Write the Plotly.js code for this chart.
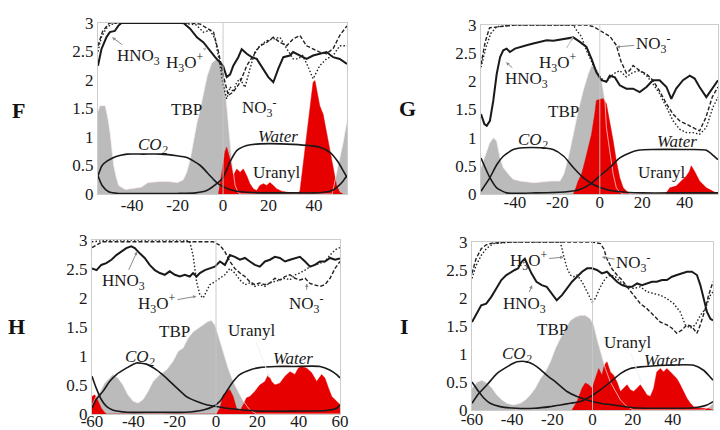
<!DOCTYPE html>
<html><head><meta charset="utf-8">
<script src="https://cdn.plot.ly/plotly-3.0.1.min.js"></script>
<style>html,body{margin:0;padding:0;background:#fff}#chart{width:720px;height:430px}</style>
</head><body><div id="chart"></div>
<script>
// ---------------- Panel F ----------------
const F_tbp_x = [-55,-54.2,-51.8,-50.5,-49.6,-48.1,-47,-45.9,-43,-40,-36,-33,-28,-24,-20,-17.5,-16,-14.5,-13,-11.5,-10,-8.5,-7,-5,-2.8,0,1,2.3,3.8,5.3,6.7,8,48,50.6,52.8,55];
const F_tbp_y = [1.45,1.55,1.55,1.3,1.05,0.5,0.3,0.15,0.08,0.1,0.12,0.2,0.22,0.22,0.2,0.25,0.38,0.6,0.96,1.25,1.5,1.8,2.07,2.3,2.37,2.25,1.8,1.2,0.6,0.15,0.02,0,0,0.5,0.9,1.4];
const F_ur_x = [-2,-1.3,-0.3,0.9,1.6,2.3,3.1,4.5,6,7.5,8.9,10.4,11.8,13.3,14.8,16.2,17.7,19.2,20.6,22.1,23.5,25.7,29.4,32.3,33.8,35.2,36.7,38.2,39.6,40.4,41.1,42.5,44,45.5,46.9,48.4,49.9,51.3,52.8];
const F_ur_y = [0,0.2,0.5,0.75,0.82,0.72,0.6,0.32,0.44,0.38,0.44,0.32,0.18,0.09,0.06,0.15,0.18,0.15,0.2,0.15,0.09,0.05,0.02,0,0.05,0.5,0.96,1.49,1.96,1.99,1.84,1.55,1.4,1.08,0.85,0.5,0.15,0.03,0];
const F_co2_x = [-55,-53.2,-50.9,-48.1,-45,-42.3,-35,-27.6,-20.3,-15.9,-10,-5.7,-2.8,0,4.5,10,20,30,40,46,48.4,51,52.8,54.5];
const F_co2_y = [0.32,0.5,0.58,0.64,0.68,0.7,0.7,0.7,0.67,0.64,0.5,0.32,0.2,0.13,0.06,0.03,0.02,0.02,0.02,0.04,0.07,0.15,0.23,0.32];
const F_wat_x = [-55,-53.2,-50.3,-45.9,-40,-30,-20,-12,-7.2,-2.8,0,3,6,10.4,16.2,30.8,42.5,47,50.6,52.8,54.5];
const F_wat_y = [0.32,0.15,0.04,0.01,0.01,0.01,0.01,0.02,0.06,0.18,0.29,0.56,0.76,0.85,0.88,0.87,0.82,0.73,0.56,0.41,0.29];
const F_hno3_x = [-55,-53.5,-51.3,-49.8,-47.6,-46.1,-44.7,-40,-30,-20,-17.4,-14.5,-11.5,-8.6,-6.4,-3.5,0,1.6,3.1,4.5,6.7,8.2,10.4,12.6,14.8,17.7,19.9,22.1,24.3,26.5,29.4,30.8,33.8,36.7,39.6,42.5,45.5,48.4,51.3,54.5];
const F_hno3_y = [2.25,2.54,2.75,2.84,2.86,2.95,3,3,3,3,3,2.9,2.75,2.66,2.54,2.4,2.25,2.05,2.1,2.25,2.4,2.54,2.46,2.4,2.37,2.19,2.05,1.96,2.2,2.4,2.43,2.49,2.43,2.37,2.43,2.46,2.49,2.4,2.37,2.28];
const F_h3o_x = [-55,-53.5,-51.5,-49.5,-47,-40,-20,-12,-8.6,-5.7,-3.5,-1.3,0.1,1.6,3.1,4.5,6,7.5,9.6,11.8,14,16.2,19.2,22.1,25,28,30.8,32.9,35,37.2,39.6,42.5,45.5,48.4,51.3,54.5];
const F_h3o_y = [2.5,2.75,2.9,2.97,3,3,3,2.97,2.84,2.87,2.72,2.25,1.9,1.67,1.88,1.79,1.96,2.02,1.87,2.19,2.49,2.6,2.69,2.72,2.75,2.55,2.37,2.37,2.43,2.25,2.02,2.25,2.37,2.43,2.6,2.6];
const F_no3_x = [-55,-53,-50,-40,-20,-14.5,-10,-4.2,-2,0.1,2.3,4.5,7.5,10.4,13.3,16.2,19.2,22.1,25,28,30.8,33.8,36.7,39.6,42.5,45.5,48.4,51.3,54.5];
const F_no3_y = [2.6,2.85,3,3,3,3,2.98,2.84,2.49,2.08,1.73,1.79,1.96,2.25,2.43,2.6,2.66,2.75,2.66,2.6,2.72,2.78,2.6,2.55,2.49,2.46,2.55,2.78,2.95];

// ---------------- Panel G ----------------
const G_tbp_x = [-56,-54,-52,-50.2,-48.6,-47,-45.5,-43,-40.8,-37.6,-31,-23.5,-18.8,-17,-14.9,-12.5,-10.2,-7.8,-5.5,-3.9,-2.4,-0.8,0.8,2.4,3.1,4.7,6.3,7.8,9.4,11,55.7];
const G_tbp_y = [0.47,0.7,0.9,1.0,0.94,0.64,0.47,0.35,0.26,0.23,0.2,0.23,0.23,0.35,0.64,1.06,1.48,1.84,2.13,2.28,2.25,2.19,2.02,1.66,1.18,0.76,0.35,0.11,0.03,0,0];
const G_ur_x = [-12.5,-11.8,-10.2,-8.6,-7,-5.5,-3.9,-2.4,-1.6,0,1.6,3.1,4.7,6.3,7.8,9.4,11,12.5,14,31,33,36,38.4,40.8,42.2,43.1,44.7,47,50.2,53.3,55.7];
const G_ur_y = [0,0.05,0.23,0.35,0.58,0.82,1.06,1.42,1.66,1.68,1.69,1.6,1.3,0.94,0.58,0.29,0.11,0.05,0,0,0.11,0.14,0.23,0.32,0.4,0.5,0.4,0.23,0.11,0.04,0];
const G_co2_x = [-56,-51.8,-48.6,-45.5,-40.8,-36,-28,-22,-17,-12.5,-7.8,-3.1,3.1,9.4,20,40,55.7];
const G_co2_y = [0.05,0.29,0.52,0.67,0.79,0.82,0.82,0.79,0.67,0.47,0.29,0.17,0.08,0.04,0.02,0.02,0.02];
const G_wat_x = [-56,-51.8,-48.6,-43.9,-30,-15.7,-9.4,-4.7,0,4.7,9.4,14,18.8,25,39,50,53,55.7];
const G_wat_y = [0.64,0.29,0.11,0.02,0.02,0.04,0.08,0.17,0.32,0.47,0.64,0.73,0.78,0.79,0.79,0.78,0.7,0.61];
const G_hno3_x = [-56,-54.4,-53.3,-51.8,-50.2,-48.6,-47,-45.5,-43.9,-42.4,-40,-37.6,-34.5,-31.4,-28.2,-25,-21.9,-18.8,-15.7,-12.5,-9.4,-6.3,-3.9,-1.6,0.8,3.1,4.7,7.1,9.4,12.5,15.7,18.8,22,25,28.2,31.4,33.7,36,39.2,42.4,44.7,47,50.2,52.5,55.7];
const G_hno3_y = [1.42,1.24,1.21,1.3,1.66,2.13,2.43,2.55,2.58,2.52,2.58,2.61,2.64,2.67,2.7,2.73,2.72,2.74,2.76,2.78,2.7,2.61,2.4,2.16,2.02,1.99,2.1,2.07,1.93,1.87,1.87,1.81,1.9,2.02,2.02,1.9,1.69,1.87,2.02,2.1,2.05,1.9,1.72,1.84,2.02];
const G_h3o_x = [-56,-53.6,-51.4,-48.6,-40,-20,-12.5,-11,-8.6,-6.3,-3.9,-1.6,0.8,3.1,6.3,9.4,12.5,15.7,18.8,22,25,28.2,31.4,34.5,37.6,40.8,44,47,50.2,53.3,55.7];
const G_h3o_y = [2.25,2.61,2.85,2.97,3,3,3,2.91,2.79,2.55,2.34,2.16,2.05,1.99,2.13,2.19,2.08,2.16,2.19,2.1,1.96,1.78,1.54,1.3,1.15,1.09,1.09,1.06,1.18,1.54,1.72];
const G_no3_x = [-56,-54,-52,-40,-20,-6.3,-3,0,4.7,7.8,10,12.5,14,15.7,18.8,22,25,28,31.4,34.5,37.6,40.8,44,47,50,53,55.7];
const G_no3_y = [2.3,2.7,2.95,3,3,3,2.97,2.9,2.8,2.64,2.35,2.15,2.19,2.28,2.19,2.13,2.02,1.84,1.6,1.42,1.3,1.24,1.18,1.12,1.36,1.72,1.9];

// ---------------- Panel H ----------------
const H_tbp_x = [-60,-58,-56,-54,-51.5,-50,-47.4,-45,-42.6,-40,-37.7,-35.3,-32.9,-30.5,-27.2,-24,-20.8,-18.3,-15.9,-13.5,-11,-8.6,-6.2,-3.8,-2.2,-0.6,1,3.5,5.9,8.3,10.7,13.2,16.4,19.6,60];
const H_tbp_y = [0.15,0.3,0.39,0.53,0.62,0.68,0.62,0.5,0.33,0.22,0.19,0.25,0.39,0.56,0.68,0.76,0.91,1.08,1.14,1.31,1.42,1.48,1.54,1.6,1.61,1.54,1.37,1.08,0.79,0.56,0.39,0.22,0.07,0,0];
const H_ur_x = [-60,-58.7,-57,-55.5,-54,-53,0.2,1.9,3.5,5.1,6.7,8.3,9.9,11.5,13.2,14.8,16.4,18.8,21.2,23.7,25.3,26.9,28.5,30.9,33.4,35.8,38.2,39.8,41.4,43.9,46.3,48.7,51.1,52.7,54.4,56,58.4,60];
const H_ur_y = [0.3,0.33,0.22,0.1,0.03,0,0,0.1,0.33,0.39,0.42,0.3,0.1,0.05,0.16,0.28,0.3,0.39,0.5,0.56,0.68,0.56,0.5,0.53,0.65,0.73,0.68,0.79,0.82,0.79,0.71,0.56,0.68,0.62,0.45,0.3,0.22,0.16];
const H_co2_x = [-60,-58,-54.7,-51.5,-48.2,-43.4,-38.5,-33.7,-28.8,-24,-19,-14.3,-9.5,-4.6,0,5.1,13,21,37,53,58.4,60];
const H_co2_y = [0.1,0.25,0.39,0.56,0.68,0.79,0.88,0.86,0.76,0.62,0.45,0.3,0.22,0.16,0.13,0.1,0.07,0.05,0.05,0.06,0.1,0.16];
const H_wat_x = [-60,-58,-55.5,-53,-50,-43,-30,-15,-6.2,-1.4,1.9,5.1,8.3,11.5,16.4,21,29,37.4,50.3,55,58.4,60];
const H_wat_y = [0.65,0.45,0.25,0.13,0.07,0.03,0.03,0.03,0.07,0.13,0.22,0.39,0.56,0.68,0.76,0.8,0.82,0.82,0.82,0.76,0.68,0.62];
const H_hno3_x = [-60,-57.8,-55.5,-53.1,-50.6,-48.2,-45.8,-43.4,-41,-39.3,-36.9,-34.5,-32.1,-29.6,-27.2,-24.8,-22.4,-19.9,-17.5,-15.1,-12.7,-11.1,-9.4,-7.8,-5.4,-3,-0.6,1.9,4.3,6.7,9.1,11.6,14,16.4,18.8,21.2,23.7,26.1,28.5,30.9,33.4,35.8,38.2,40.6,43.1,45.5,47.9,50.3,52.7,55.2,57.6,60];
const H_hno3_y = [2.51,2.48,2.57,2.6,2.66,2.74,2.8,2.86,2.89,2.86,2.77,2.69,2.57,2.48,2.43,2.4,2.46,2.4,2.37,2.4,2.37,2.43,2.37,2.43,2.48,2.51,2.54,2.63,2.57,2.74,2.71,2.66,2.69,2.63,2.57,2.54,2.63,2.66,2.71,2.69,2.63,2.66,2.69,2.71,2.63,2.54,2.57,2.63,2.63,2.69,2.66,2.68];
const H_h3o_x = [-60,-50,-30,-15,-12.7,-11.1,-9.4,-7.8,-6.2,-4.6,-3,-0.6,1.9,4.3,6.7,9.1,11.6,14,16.4,18.8,21.2,23.7,26.1,28.5,30.9,33.4,35.8,38.2,40.6,43.1,45.5,47.9,50.3,52.7,55.2,57.6,60];
const H_h3o_y = [2.97,3,3,3,2.97,2.74,2.28,2.05,2,2.11,2.23,2.28,2.34,2.4,2.51,2.43,2.31,2.23,2.26,2.2,2.23,2.2,2.26,2.28,2.31,2.34,2.31,2.4,2.43,2.48,2.54,2.57,2.6,2.63,2.74,2.83,2.87];
const H_no3_x = [-60,-57.8,-55,-40,-20,-1.4,1.9,4.3,6.7,9.1,11.6,14,16.4,18.8,21.2,23.7,26.1,28.5,30.9,33.4,35.8,38.2,40.6,43.1,45.5,47.9,50.3,52.7,55.2,57.6,60];
const H_no3_y = [2.87,2.92,2.97,2.97,2.97,2.97,2.91,2.8,2.63,2.51,2.43,2.37,2.28,2.23,2.26,2.23,2.26,2.34,2.31,2.37,2.4,2.34,2.31,2.34,2.25,2.23,2.2,2.23,2.34,2.51,2.63];

// ---------------- Panel I ----------------
const I_tbp_x = [-60,-57.5,-55,-52.5,-50,-47.6,-45,-42.6,-39.3,-36,-33.4,-31,-28.5,-26,-23.5,-21,-18.5,-16,-13.5,-11,-8.5,-6,-3.6,-1.1,0.6,2.2,3.9,6.4,8.9,11.4,13.9,17.2,20.5,55,58,60];
const I_tbp_y = [0.39,0.5,0.53,0.48,0.39,0.27,0.18,0.12,0.09,0.12,0.18,0.27,0.39,0.56,0.68,0.86,1.1,1.28,1.46,1.6,1.66,1.69,1.69,1.63,1.52,1.28,1.04,0.74,0.5,0.33,0.18,0.06,0,0,0.05,0.12];
const I_ur_x = [-10.2,-7.7,-5.2,-3.6,-1.9,-0.2,1.4,3.1,4.7,5.9,7.2,8.9,10.5,12.2,13.9,15.5,17.2,18.8,20.5,22.2,23.8,25.5,27.1,28.8,30.5,32,33.8,35.4,37,38.8,40.4,42,43.7,45.4,47,48.7,50.4,53.7,57,60];
const I_ur_y = [0,0.15,0.39,0.48,0.45,0.39,0.56,0.74,0.62,0.8,0.86,0.68,0.62,0.5,0.33,0.39,0.45,0.36,0.33,0.39,0.45,0.36,0.27,0.24,0.39,0.68,0.74,0.68,0.74,0.68,0.62,0.56,0.45,0.33,0.21,0.12,0.06,0.03,0.03,0];
const I_co2_x = [-60,-57.2,-52.5,-47.6,-42.6,-37.6,-32.6,-27.6,-22.7,-17.7,-12.7,-7.7,-2.7,3.9,12.2,20.5,37,50.4,57,60];
const I_co2_y = [0.12,0.27,0.45,0.65,0.77,0.86,0.86,0.77,0.62,0.48,0.33,0.24,0.18,0.12,0.08,0.04,0.03,0.04,0.09,0.15];
const I_wat_x = [-60,-56.7,-54,-51,-46,-38,-29,-21,-16,-11,-6,-1,3.9,8.9,13.9,18.8,23.8,37,50.4,55.3,57.8,60];
const I_wat_y = [0.5,0.33,0.21,0.12,0.06,0.03,0.03,0.06,0.09,0.12,0.15,0.24,0.36,0.5,0.65,0.74,0.77,0.8,0.8,0.71,0.62,0.53];
const I_hno3_x = [-60,-58,-55.4,-52.9,-50.4,-47.9,-45.4,-42.9,-40.4,-38.7,-37,-35.4,-33.7,-32.1,-30.4,-27.9,-25.3,-22.8,-20.3,-17.8,-15.2,-12.7,-10.2,-7.7,-5.2,-2.7,-0.2,2.2,4.7,7.2,9.7,12.2,14.7,17.2,19.7,22.2,24.6,27.1,29.6,32,34.6,37,39.6,42,44.6,47,49.5,52,53.7,55.3,57,58.7,60];
const I_hno3_y = [1.57,1.69,1.87,1.9,2.02,2.17,2.32,2.41,2.47,2.5,2.53,2.64,2.7,2.58,2.44,2.29,2.23,2.2,2.08,1.96,2.05,2.17,2.29,2.38,2.47,2.53,2.53,2.5,2.44,2.47,2.38,2.29,2.23,2.2,2.2,2.26,2.23,2.26,2.29,2.29,2.32,2.32,2.38,2.41,2.44,2.47,2.47,2.41,2.23,1.99,1.75,1.63,1.6];
const I_h3o_x = [-60,-58,-55.4,-52.9,-49.5,-40,-20,-16,-14.4,-12.7,-11,-9.4,-7.7,-5.2,-2.7,-0.2,1.4,3.9,6.4,8.9,11.4,13.9,17.2,20.5,23.8,27.1,30.5,33.8,37,40.4,43.7,46.2,48.7,51.2,53.7,56.2,58.7,60];
const I_h3o_y = [2.35,2.58,2.76,2.88,2.97,3,3,3,2.76,2.53,2.41,2.38,2.41,2.29,2.11,1.93,1.99,2.2,2.35,2.41,2.38,2.29,2.2,2.17,2.2,2.11,2.08,2.05,1.99,1.9,1.75,1.52,1.46,1.52,1.69,1.81,2.05,2.11];
const I_no3_x = [-60,-58,-55.4,-52.9,-50,-40,-20,0,3.9,5.6,7.2,9.7,12.2,14.7,17.2,20.5,23.8,27.1,30.5,33.8,37,39.6,42,44.6,47,49.5,52,53.7,56.2,57.8,60];
const I_no3_y = [2.44,2.7,2.88,2.95,2.98,3,3,3,2.97,2.88,2.7,2.52,2.41,2.32,2.2,2.05,1.9,1.81,1.69,1.57,1.52,1.46,1.37,1.43,1.52,1.49,1.37,1.52,1.81,2.05,2.29];

// ---------------- Ticks / labels ----------------
const yTickVals = [0,0.5,1,1.5,2,2.5,3];
const yTickText = ['0','0.5','1','1.5','2','2.5','3'];
const xTickValsFG = [-40,-20,0,20,40];
const xTickTextFG = ['-40','-20','0','20','40'];
const xTickValsHI = [-60,-40,-20,0,20,40,60];
const xTickTextHI = ['-60','-40','-20','0','20','40','60'];
const panelLetters = ['F','G','H','I'];

const GRAY = '#bbbbbb', RED = '#e60000', INK = '#1a1a1a';
const SERIF = 'Liberation Serif, Times New Roman, serif';

const panels = [
  {xa:'x',  ya:'y',  tbp:[F_tbp_x,F_tbp_y], ur:[F_ur_x,F_ur_y], co2:[F_co2_x,F_co2_y], wat:[F_wat_x,F_wat_y], hno3:[F_hno3_x,F_hno3_y], h3o:[F_h3o_x,F_h3o_y], no3:[F_no3_x,F_no3_y]},
  {xa:'x2', ya:'y2', tbp:[G_tbp_x,G_tbp_y], ur:[G_ur_x,G_ur_y], co2:[G_co2_x,G_co2_y], wat:[G_wat_x,G_wat_y], hno3:[G_hno3_x,G_hno3_y], h3o:[G_h3o_x,G_h3o_y], no3:[G_no3_x,G_no3_y]},
  {xa:'x3', ya:'y3', tbp:[H_tbp_x,H_tbp_y], ur:[H_ur_x,H_ur_y], co2:[H_co2_x,H_co2_y], wat:[H_wat_x,H_wat_y], hno3:[H_hno3_x,H_hno3_y], h3o:[H_h3o_x,H_h3o_y], no3:[H_no3_x,H_no3_y]},
  {xa:'x4', ya:'y4', tbp:[I_tbp_x,I_tbp_y], ur:[I_ur_x,I_ur_y], co2:[I_co2_x,I_co2_y], wat:[I_wat_x,I_wat_y], hno3:[I_hno3_x,I_hno3_y], h3o:[I_h3o_x,I_h3o_y], no3:[I_no3_x,I_no3_y]}
];

const traces = [];
panels.forEach(p => {
  const base = {type:'scatter', mode:'lines', xaxis:p.xa, yaxis:p.ya, hoverinfo:'skip', showlegend:false};
  traces.push(Object.assign({}, base, {x:p.tbp[0], y:p.tbp[1], fill:'tozeroy', fillcolor:GRAY, line:{width:0, color:GRAY}}));
  traces.push(Object.assign({}, base, {x:p.ur[0], y:p.ur[1], fill:'tozeroy', fillcolor:RED, line:{width:0.5, color:RED}}));
  traces.push(Object.assign({}, base, {x:p.tbp[0], y:p.tbp[1], line:{width:1, color:'rgba(255,235,235,0.7)'}}));
  traces.push(Object.assign({}, base, {x:p.co2[0], y:p.co2[1], line:{width:1.6, color:INK, shape:'spline', smoothing:0.6}}));
  traces.push(Object.assign({}, base, {x:p.wat[0], y:p.wat[1], line:{width:1.6, color:INK, shape:'spline', smoothing:0.6}}));
  traces.push(Object.assign({}, base, {x:p.no3[0], y:p.no3[1], line:{width:1.4, color:'#222', dash:'4px,2px'}}));
  traces.push(Object.assign({}, base, {x:p.h3o[0], y:p.h3o[1], line:{width:1.4, color:'#222', dash:'1.5px,2px'}}));
  traces.push(Object.assign({}, base, {x:p.hno3[0], y:p.hno3[1], line:{width:2, color:INK}}));
});

function xAxis(domain, range, tv, tt, anchor, standoff){
  return {domain, range, anchor, tickvals:tv, ticktext:tt, ticks:'', showgrid:false,
    showline:true, mirror:true, linecolor:'#cccccc', linewidth:1, zeroline:false,
    ticklabelstandoff:standoff,
    tickfont:{family:SERIF, size:17, color:INK}, fixedrange:true};
}
function yAxis(domain, anchor){
  return {domain, range:[0,3], anchor, tickvals:yTickVals, ticktext:yTickText, ticks:'', showgrid:false,
    showline:true, mirror:true, linecolor:'#cccccc', linewidth:1, zeroline:false,
    tickfont:{family:SERIF, size:17, color:INK}, fixedrange:true};
}

const W = 720, Hh = 430;
const dx = (a,b) => [a/W, b/W];
const dy = (top,bot) => [1-bot/Hh, 1-top/Hh];

function lab(xr, yr, x, y, text){
  return {xref:xr, yref:yr, x, y, text, showarrow:false, font:{family:SERIF, size:17, color:INK}};
}
function arr(xr, yr, tx, ty, x, y, text, col){
  return {xref:xr, yref:yr, x, y, ax:tx, ay:ty, axref:xr, ayref:yr, text, showarrow:true,
    arrowhead:2, arrowsize:0.7, arrowwidth:1, arrowcolor:col||'#8a8a8a', standoff:0,
    font:{family:SERIF, size:17, color:INK}};
}
const HNO3 = 'HNO<sub>3</sub>', H3O = 'H<sub>3</sub>O<sup>+</sup>', NO3 = 'NO<sub>3</sub><sup>-</sup>';
const CO2 = '<i>CO<sub>2</sub></i>', WATER = '<i>Water</i>';

const annotations = [
  // F
  arr('x','y',-37,2.4,-48.8,2.75,HNO3),
  arr('x','y',-16.6,2.3,-7.2,2.57,H3O,'#bbbbbb'),
  lab('x','y',15.8,1.52,NO3),
  lab('x','y',-15.9,1.48,'TBP'),
  lab('x','y',-30.6,0.85,CO2),
  lab('x','y',24.3,1.01,WATER),
  lab('x','y',23.5,0.38,'Uranyl'),
  // G
  arr('x2','y2',25.1,2.67,7.8,2.61,NO3),
  arr('x2','y2',-19.6,2.34,-12.5,2.79,H3O,'#bbbbbb'),
  arr('x2','y2',-34.5,2.02,-44.2,2.34,HNO3),
  lab('x2','y2',-17.3,1.47,'TBP'),
  lab('x2','y2',-31.4,0.94,CO2),
  lab('x2','y2',36.4,0.93,WATER),
  lab('x2','y2',29,0.38,'Uranyl'),
  // H
  arr('x3','y3',-45,2.27,-38.2,2.8,HNO3),
  arr('x3','y3',-28.5,1.91,-9.4,2.03,H3O),
  arr('x3','y3',43.9,1.9,43.9,2.25,NO3),
  lab('x3','y3',-20,1.42,'TBP'),
  arr('x3','y3',17.2,1.44,26.1,0.62,'Uranyl','#f2f2f2'),
  lab('x3','y3',-36.9,0.96,CO2),
  lab('x3','y3',37.4,0.96,WATER),
  // I
  arr('x4','y4',-31.8,2.67,-14.4,2.73,H3O),
  arr('x4','y4',20.5,2.64,4.7,2.73,NO3),
  arr('x4','y4',-33.9,1.88,-30.1,2.23,HNO3),
  lab('x4','y4',-19.7,1.43,'TBP'),
  arr('x4','y4',17.2,1.21,24.2,0.5,'Uranyl','#f2f2f2'),
  lab('x4','y4',-37.6,0.98,CO2),
  lab('x4','y4',35.4,0.89,WATER)
];
const letterPos = [[18,110],[407,108],[16,326],[404,326]];
panelLetters.forEach((L,i) => {
  annotations.push({xref:'paper', yref:'paper', x:letterPos[i][0]/W, y:1-letterPos[i][1]/Hh,
    text:'<b>'+L+'</b>', showarrow:false, xanchor:'center', yanchor:'middle',
    font:{family:SERIF, size:22, color:'#111'}});
});

const zeroShapes = ['','2','3','4'].map(s => ({type:'line', xref:'x'+s, yref:'y'+s+' domain',
  x0:0, x1:0, y0:0, y1:1, layer:'above', line:{color:'rgba(200,200,200,0.9)', width:1}}));

const layout = {
  width:W, height:Hh, margin:{l:0,r:0,t:0,b:0}, paper_bgcolor:'#fff', plot_bgcolor:'#fff',
  showlegend:false,
  xaxis:  xAxis(dx(98,347),  [-55,54.5], xTickValsFG, xTickTextFG, 'y', -4),
  yaxis:  yAxis(dy(23,194), 'x'),
  xaxis2: xAxis(dx(481,718), [-56,55.7], xTickValsFG, xTickTextFG, 'y2', -7),
  yaxis2: yAxis(dy(25,194), 'x2'),
  xaxis3: xAxis(dx(92,340),  [-60,60], xTickValsHI, xTickTextHI, 'y3', -8),
  yaxis3: yAxis(dy(240,414), 'x3'),
  xaxis4: xAxis(dx(472,713), [-60,60], xTickValsHI, xTickTextHI, 'y4', -6),
  yaxis4: yAxis(dy(242,410), 'x4'),
  annotations, shapes: zeroShapes
};
Plotly.newPlot('chart', traces, layout, {displayModeBar:false, staticPlot:true});
</script></body></html>
